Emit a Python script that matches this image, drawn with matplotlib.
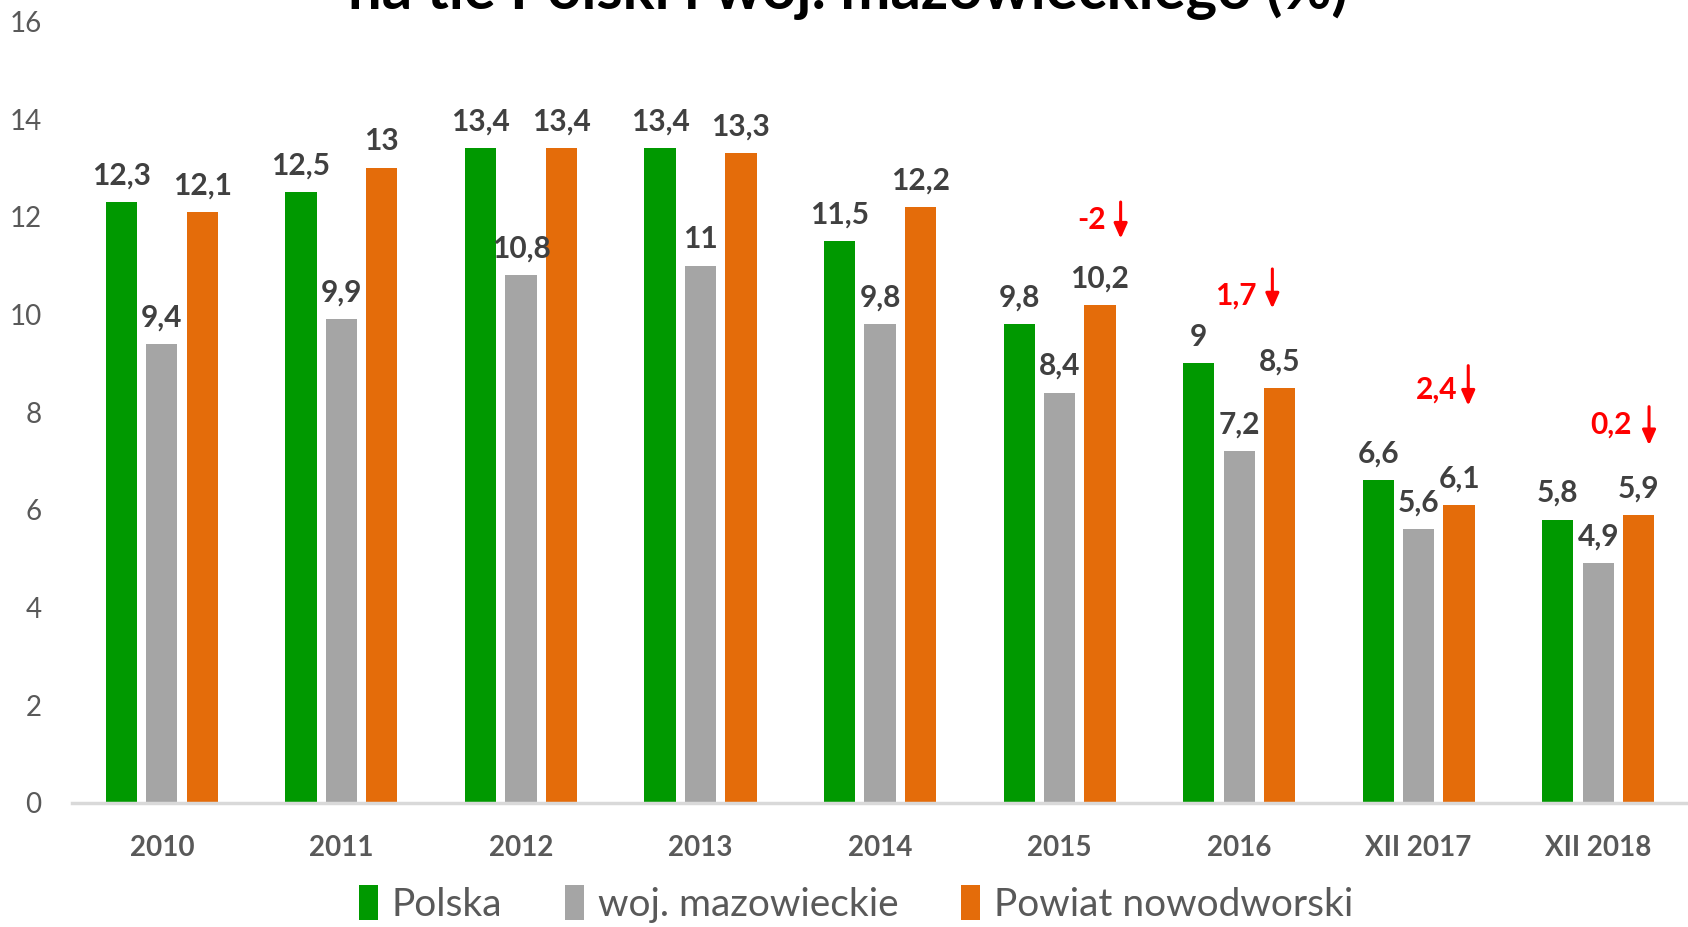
import matplotlib
matplotlib.use("Agg")
import matplotlib.pyplot as plt
import numpy as np

plt.rcParams['font.family'] = ['Lato', 'DejaVu Sans']

categories = ["2010", "2011", "2012", "2013", "2014", "2015", "2016", "XII 2017", "XII 2018"]
polska = [12.3, 12.5, 13.4, 13.4, 11.5, 9.8, 9, 6.6, 5.8]
mazowieckie = [9.4, 9.9, 10.8, 11, 9.8, 8.4, 7.2, 5.6, 4.9]
powiat = [12.1, 13, 13.4, 13.3, 12.2, 10.2, 8.5, 6.1, 5.9]
series_names = ["Polska", "woj. mazowieckie", "Powiat nowodworski"]
colors = ["#009900", "#A5A5A5", "#E46C0A"]

# red change annotations (label, text x, text y, arrow x, arrow top, arrow bottom)
diff_labels = ["-2", "1,7", "2,4", "0,2"]
diff_text_x = [5.18, 5.98, 7.10, 8.07]
diff_text_y = [11.94, 10.38, 8.46, 7.74]
diff_arrow_x = [5.34, 6.185, 7.276, 8.283]
diff_arrow_top = [12.30, 10.93, 8.95, 8.11]
diff_arrow_bot = [11.55, 10.12, 8.13, 7.32]

fig = plt.figure(figsize=(16.88, 9.27), dpi=100)
ax = fig.add_axes([0.0427, 0.134, 0.9573, 0.843])

x = np.arange(len(categories))
width = 0.174
step = 0.225

def fmt(v):
    s = ("%.1f" % v).rstrip('0').rstrip('.')
    return s.replace('.', ',')

for i, (vals, c, name) in enumerate(zip([polska, mazowieckie, powiat], colors, series_names)):
    pos = x + (i - 1) * step
    ax.bar(pos, vals, width=width, color=c, label=name, zorder=2)
    for p, v in zip(pos, vals):
        ax.annotate(fmt(v), (p, v), xytext=(0, 9), textcoords='offset points',
                    ha='center', va='bottom', fontsize=21.5, fontweight='bold', color='#404040')

for lab, tx, ty, axx, at, ab in zip(diff_labels, diff_text_x, diff_text_y, diff_arrow_x, diff_arrow_top, diff_arrow_bot):
    ax.text(tx, ty, lab, ha='center', va='center', fontsize=21.5, fontweight='bold', color='#FF0000')
    ax.annotate('', xy=(axx, ab), xytext=(axx, at),
                arrowprops=dict(arrowstyle='-|>,head_width=0.4,head_length=0.9', color='#FF0000',
                                lw=2.2, shrinkA=0, shrinkB=0))

ax.set_xlim(-0.5, len(categories) - 0.5)
ax.set_ylim(0, 16)
ax.set_yticks(np.arange(0, 17, 2))
ax.set_xticks(x)
ax.set_xticklabels(categories, fontsize=20, fontweight='bold', color='#595959')
ax.tick_params(axis='y', length=0, pad=22, labelsize=20, labelcolor='#595959')
ax.tick_params(axis='x', length=0, pad=23)
for s in ['top', 'right', 'left']:
    ax.spines[s].set_visible(False)
ax.spines['bottom'].set_color('#D9D9D9')
ax.spines['bottom'].set_linewidth(2.5)

fig.legend(loc='center', bbox_to_anchor=(0.507, 0.025), ncol=3, frameon=False,
           fontsize=28, handlelength=0.5, handleheight=1.0, handletextpad=0.35,
           columnspacing=1.6, labelcolor='#595959')

fig.text(0.502, 0.99, "na tle Polski i woj. mazowieckiego (%)", ha='center', va='baseline',
         fontsize=43, fontweight='bold', color='#000000')

fig.savefig("out.png", dpi=100)
